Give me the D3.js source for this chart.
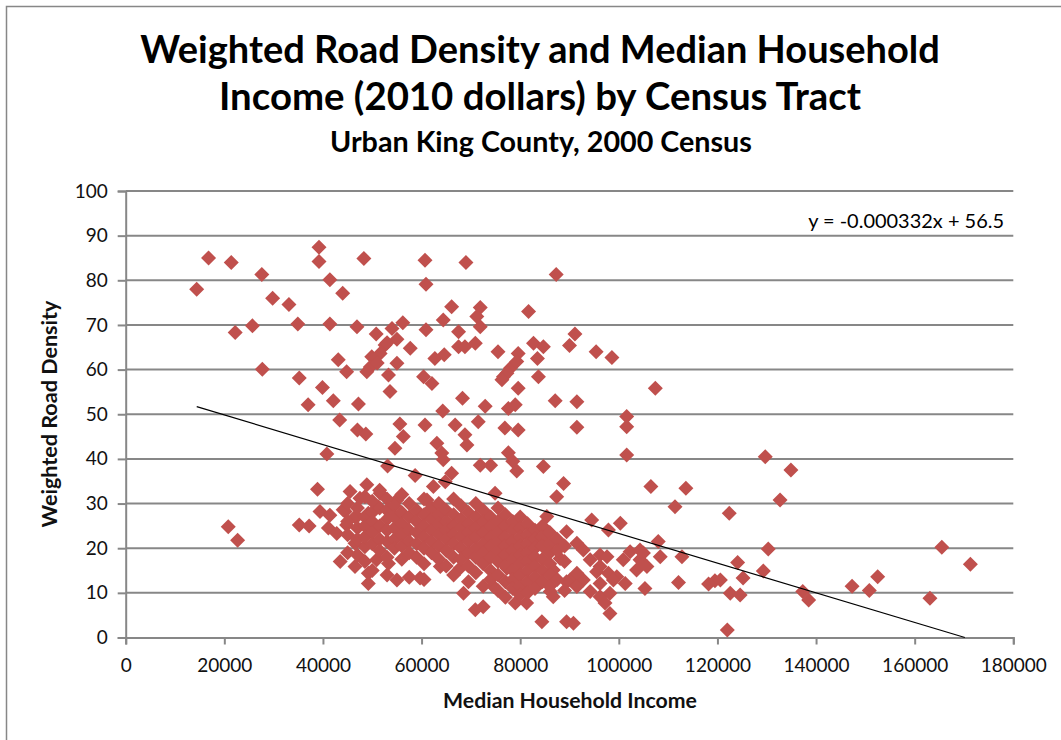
<!DOCTYPE html>
<html>
<head>
<meta charset="utf-8">
<script src="https://cdn.jsdelivr.net/npm/d3@7"></script>
<style>
  html, body { margin: 0; padding: 0; background: #fff; }
  svg { display: block; font-family: Lato, "Open Sans", sans-serif; }
</style>
</head>
<body>
<svg id="chart" width="1061" height="740"></svg>
<script>
// Axis ticks
const xTicks = [0, 20000, 40000, 60000, 80000, 100000, 120000, 140000, 160000, 180000];
const yTicks = [0, 10, 20, 30, 40, 50, 60, 70, 80, 90, 100];

// Linear trend (least squares) reported on the chart
const trendSlope = -0.000332;
const trendIntercept = 56.5;
const trendStart = 14400;

// Census tracts outside the dense middle: [median household income, weighted road density]
const outerTracts = [
  [14400,78],[16800,85],[21400,84],[27600,81.3],[29800,76],[33100,74.6],[22200,68.3],[25700,69.8],
  [34900,70.2],[27700,60.1],[35200,58.1],[39200,87.4],[39200,84.2],[41400,80.1],[44000,77.1],[41400,70.2],
  [46900,69.6],[43100,62.2],[44800,59.5],[39900,56],[37000,52.1],[42100,53],[43400,48.7],[47200,52.3],
  [47000,46.5],[48700,45.6],[40800,41.1],
  [20800,24.8],[22700,21.8],[38900,33.2],[35200,25.2],[37200,25],[39400,28.2],[41400,27.4],[41100,24.5],
  [42800,23.3],[43500,17],[45500,32.7],[44500,28.2],[44800,25.2],[46500,27],[46500,21.1],[46500,15.9],
  [48300,84.9],[60700,84.5],[69000,84],[60900,79.1],[87300,81.3],[66100,74.1],[71900,73.9],[71200,71.9],
  [71900,69.6],[81700,73],
  [50800,68],[54000,69.2],[56200,70.5],[55000,66.8],[52600,65.5],[51600,63.6],[49900,62.9],[49600,60.6],
  [48900,59.5],[53000,66],[51000,61.5],
  [57700,64.8],[60900,68.9],[64400,71.1],[67500,68.5],[67500,65.1],[68800,65.1],[70900,65.9],[62700,62.5],
  [64600,63.3],[55000,61.4],[53300,58.8],[53600,55.1],[60400,58.4],[62100,56.9],
  [55600,47.8],[56300,45],[54600,42.4],[60700,47.6],[64300,50.7],[66800,47.6],[68800,45.4],[69200,43.1],
  [63100,43.5],[64100,41.3],[68300,53.6],[72900,51.8],[71500,48.3],
  [75500,64],[76600,58.4],[78000,60.3],[79600,63.6],[79300,61.8],[79600,55.8],[77600,51.3],[79000,52.1],
  [76900,46.9],[79600,46.5],[77600,41.4],[77300,59.2],[76300,57.7],[78500,39.5],[79300,37.3],
  [82700,65.9],[84700,65.1],[83500,62.5],[83700,58.4],[87100,53],[91500,52.8],[91500,47.1],[91100,68],
  [90000,65.4],[95400,64],[98600,62.7],[101600,49.5],[101600,47.2],[101600,40.9],[107400,55.8],[84700,38.3],
  [71900,38.6],[74000,38.6],
  [53100,38.4],[58700,36.3],[62400,33.8],[64800,34.9],[66100,36.8],[64400,39.8],[88800,34.5],[87400,31.5],
  [74900,32.3],
  [48900,34.2],[47500,31.2],[51600,32.3],[55000,30.8],[61100,30.8],[51200,29.3],[44100,28.6],[46900,27.1],
  [49200,27.8],
  [49200,14.4],[49200,12.1],[55000,12.9],[59700,13.3],[68500,9.9],[70900,6.2],[72500,6.9],[79000,7.7],
  [81300,7.7],[84400,3.5],[89400,3.5],[90800,3.2],[98200,5.4],[74600,11.4],[63800,15.9],[67800,15.5],
  [50900,17.4],[53300,16.6],[48500,20.3],[77300,15.5],[82700,12.9],[86100,10.3],[86700,9.1],
  [85400,27.1],[89400,23.7],[91500,21.1],
  [94500,26.3],[97900,24.1],[100300,25.6],[92800,19.6],[94200,17.4],[96200,18.5],[97600,18.1],[102300,19.2],
  [104300,19.6],[104300,17.4],[103600,15.1],[105700,15.9],[100900,17.4],[99600,13.6],[101300,12.1],[96200,15.9],
  [97900,14.4],[98900,12.9],[95500,14.7],[92800,12.9],[96200,12.1],[94200,10.3],[96200,9.1],[97200,7.7],
  [90100,12.9],[91500,14.4],[89400,12.5],[91500,11.4],[86700,15.1],[88100,17.7],[98200,9.9],
  [129700,40.5],[134900,37.5],[132700,30.8],[106500,33.8],[113600,33.4],[111400,29.3],[122400,27.8],[108000,21.5],
  [108400,18.1],[105000,18.9],[105300,11],[112800,18.1],[112100,12.3],[130300,19.8],[124100,16.8],[129300,14.9],
  [125200,13.3],[118200,12],[119500,12.7],[120600,12.9],[122600,9.9],[124600,9.5],[122000,1.7],[137300,10.3],
  [138500,8.4],[147300,11.5],[150800,10.5],[152500,13.6],[163100,8.8],[165500,20.2],[171300,16.4]
];

// Tracts in the crowded middle of the distribution
const coreTracts = [
  [45000,30],[45000,26],[45000,23],[45000,19],
  [47000,29],[47000,24.5],[47000,22],[47000,18.5],
  [48500,31.5],[48500,27],[48500,25],[48500,22.5],[48500,17],
  [50000,30.5],[50000,28],[50000,26],[50000,23.5],[50000,21],[50000,15],
  [51500,33],[51500,29],[51500,25],[51500,22],[51500,19.5],
  [53000,31],[53000,28.5],[53000,26.5],[53000,24],[53000,21.5],[53000,18],[53000,14],
  [54500,29.5],[54500,27],[54500,24.5],[54500,22],[54500,20],
  [56000,32],[56000,28],[56000,25.5],[56000,23],[56000,20.5],[56000,17.5],
  [57500,30],[57500,27],[57500,24],[57500,21.5],[57500,19],[57500,13.5],
  [59000,28.5],[59000,26],[59000,23.5],[59000,21],[59000,18],
  [60500,31],[60500,27.5],[60500,25],[60500,22.5],[60500,20],[60500,16.5],[60500,13],
  [62000,29],[62000,26.5],[62000,24],[62000,21.5],[62000,19],
  [63500,30],[63500,27.5],[63500,25.5],[63500,23],[63500,20.5],[63500,17.5],
  [65000,28.5],[65000,26],[65000,24],[65000,22],[65000,19.5],[65000,16],
  [66500,31],[66500,27.5],[66500,25],[66500,23],[66500,21],[66500,18],[66500,14],
  [68000,29.5],[68000,26.5],[68000,24.5],[68000,22.5],[68000,20],[68000,17.5],
  [69500,28],[69500,25.5],[69500,23.5],[69500,21.5],[69500,19],[69500,16],[69500,12.5],
  [71000,30],[71000,27],[71000,24.5],[71000,22.5],[71000,20],[71000,18],[71000,14.5],
  [72500,28.5],[72500,26],[72500,23.5],[72500,21],[72500,19],[72500,16.5],[72500,11.5],
  [74000,27],[74000,25],[74000,22.5],[74000,20.5],[74000,18],[74000,15],[74000,13],
  [75500,29],[75500,26],[75500,23.5],[75500,21.5],[75500,19.5],[75500,17],[75500,14],[75500,10.5],
  [77000,27.5],[77000,25],[77000,22.5],[77000,20.5],[77000,18.5],[77000,16],[77000,12.5],[77000,9],
  [78500,26],[78500,24],[78500,21.5],[78500,19.5],[78500,17.5],[78500,15],[78500,13],[78500,11],
  [80000,27],[80000,24.5],[80000,22.5],[80000,20.5],[80000,18.5],[80000,16.5],[80000,14],[80000,11.5],[80000,9.5],
  [81500,25.5],[81500,23],[81500,21],[81500,19],[81500,17],[81500,15],[81500,12.5],[81500,10],
  [83000,24],[83000,22],[83000,20],[83000,18],[83000,16],[83000,13.5],[83000,11],
  [84500,25],[84500,22.5],[84500,20.5],[84500,17.5],[84500,15],[84500,12.5],
  [86000,23.5],[86000,21],[86000,19],[86000,16.5],[86000,14],[86000,11.5],
  [87500,22],[87500,19.5],[87500,13],
  [89000,20.5],[89000,17],[89000,10.5]
];

const svg = d3.select("#chart");
const W = 1061, H = 740;

const x = d3.scaleLinear().domain([0, 180000]).range([125.7, 1013.3]);
const y = d3.scaleLinear().domain([0, 100]).range([637.5, 191]);

const gridColor = "#878787";
const markColor = "#C0504D";

// Outer frame
svg.append("rect")
  .attr("x", 6.5).attr("y", 6.5)
  .attr("width", W + 20).attr("height", H + 20)
  .attr("fill", "none").attr("stroke", gridColor).attr("stroke-width", 1.5);

// Horizontal gridlines
svg.append("g")
  .selectAll("line")
  .data(yTicks.filter(d => d > 0))
  .join("line")
  .attr("x1", x(0)).attr("x2", x(180000))
  .attr("y1", d => y(d)).attr("y2", d => y(d))
  .attr("stroke", gridColor).attr("stroke-width", 2);

// Y axis
const yAxis = d3.axisLeft(y).tickValues(yTicks).tickSize(8).tickPadding(10).tickFormat(d3.format("d"));
const gy = svg.append("g").attr("transform", `translate(${x(0)},0)`).call(yAxis);
gy.select(".domain").attr("stroke", gridColor).attr("stroke-width", 2);
gy.selectAll(".tick line").attr("stroke", gridColor).attr("stroke-width", 2);
gy.selectAll(".tick text").attr("font-size", 19).attr("fill", "#111").attr("font-family", "Lato");

// X axis
const xAxis = d3.axisBottom(x).tickValues(xTicks).tickSize(7).tickPadding(14).tickFormat(d3.format("d"));
const gx = svg.append("g").attr("transform", `translate(0,${y(0)})`).call(xAxis);
gx.select(".domain").attr("stroke", gridColor).attr("stroke-width", 2);
gx.selectAll(".tick line").attr("stroke", gridColor).attr("stroke-width", 2);
gx.selectAll(".tick text").attr("font-size", 19).attr("fill", "#111").attr("font-family", "Lato");

// Tract markers (diamonds)
const r = 7.5;
const diamond = `M0,${-r}L${r},0L0,${r}L${-r},0Z`;
svg.append("g")
  .selectAll("path")
  .data(outerTracts.concat(coreTracts))
  .join("path")
  .attr("d", diamond)
  .attr("transform", d => `translate(${x(d[0])},${y(d[1])})`)
  .attr("fill", markColor);

// Trend line, ending where it meets the x axis
const trendEnd = -trendIntercept / trendSlope;
svg.append("line")
  .attr("x1", x(trendStart)).attr("y1", y(trendIntercept + trendSlope * trendStart))
  .attr("x2", x(trendEnd)).attr("y2", y(0))
  .attr("stroke", "#000").attr("stroke-width", 1.2);

// Text helper: size the text so that it spans the given width
function fitText(sel, width) {
  const base = +sel.attr("font-size");
  const len = sel.node().getComputedTextLength();
  sel.attr("font-size", base * width / len);
  return sel;
}

const title1 = svg.append("text").attr("x", 540).attr("y", 63).attr("text-anchor", "middle")
  .attr("font-weight", "bold").attr("font-size", 32).attr("fill", "#000")
  .text("Weighted Road Density and Median Household");
fitText(title1, 800);

const title2 = svg.append("text").attr("x", 540).attr("y", 110).attr("text-anchor", "middle")
  .attr("font-weight", "bold").attr("font-size", 32).attr("fill", "#000")
  .text("Income (2010 dollars) by Census Tract");
fitText(title2, 642);

const subtitle = svg.append("text").attr("x", 541).attr("y", 152).attr("text-anchor", "middle")
  .attr("font-weight", "bold").attr("font-size", 22).attr("fill", "#000")
  .text("Urban King County, 2000 Census");
fitText(subtitle, 422);

const eq = svg.append("text").attr("x", 1004).attr("y", 228).attr("text-anchor", "end")
  .attr("font-size", 18).attr("fill", "#000")
  .text(`y = ${trendSlope}x + ${trendIntercept}`);
fitText(eq, 196);

const xLabel = svg.append("text").attr("x", 570).attr("y", 708).attr("text-anchor", "middle")
  .attr("font-weight", "bold").attr("font-size", 18).attr("fill", "#111")
  .text("Median Household Income");
fitText(xLabel, 254);

const yLabel = svg.append("text").attr("transform", "translate(57,414) rotate(-90)").attr("text-anchor", "middle")
  .attr("font-weight", "bold").attr("font-size", 18).attr("fill", "#111")
  .text("Weighted Road Density");
fitText(yLabel, 227);
</script>
</body>
</html>
